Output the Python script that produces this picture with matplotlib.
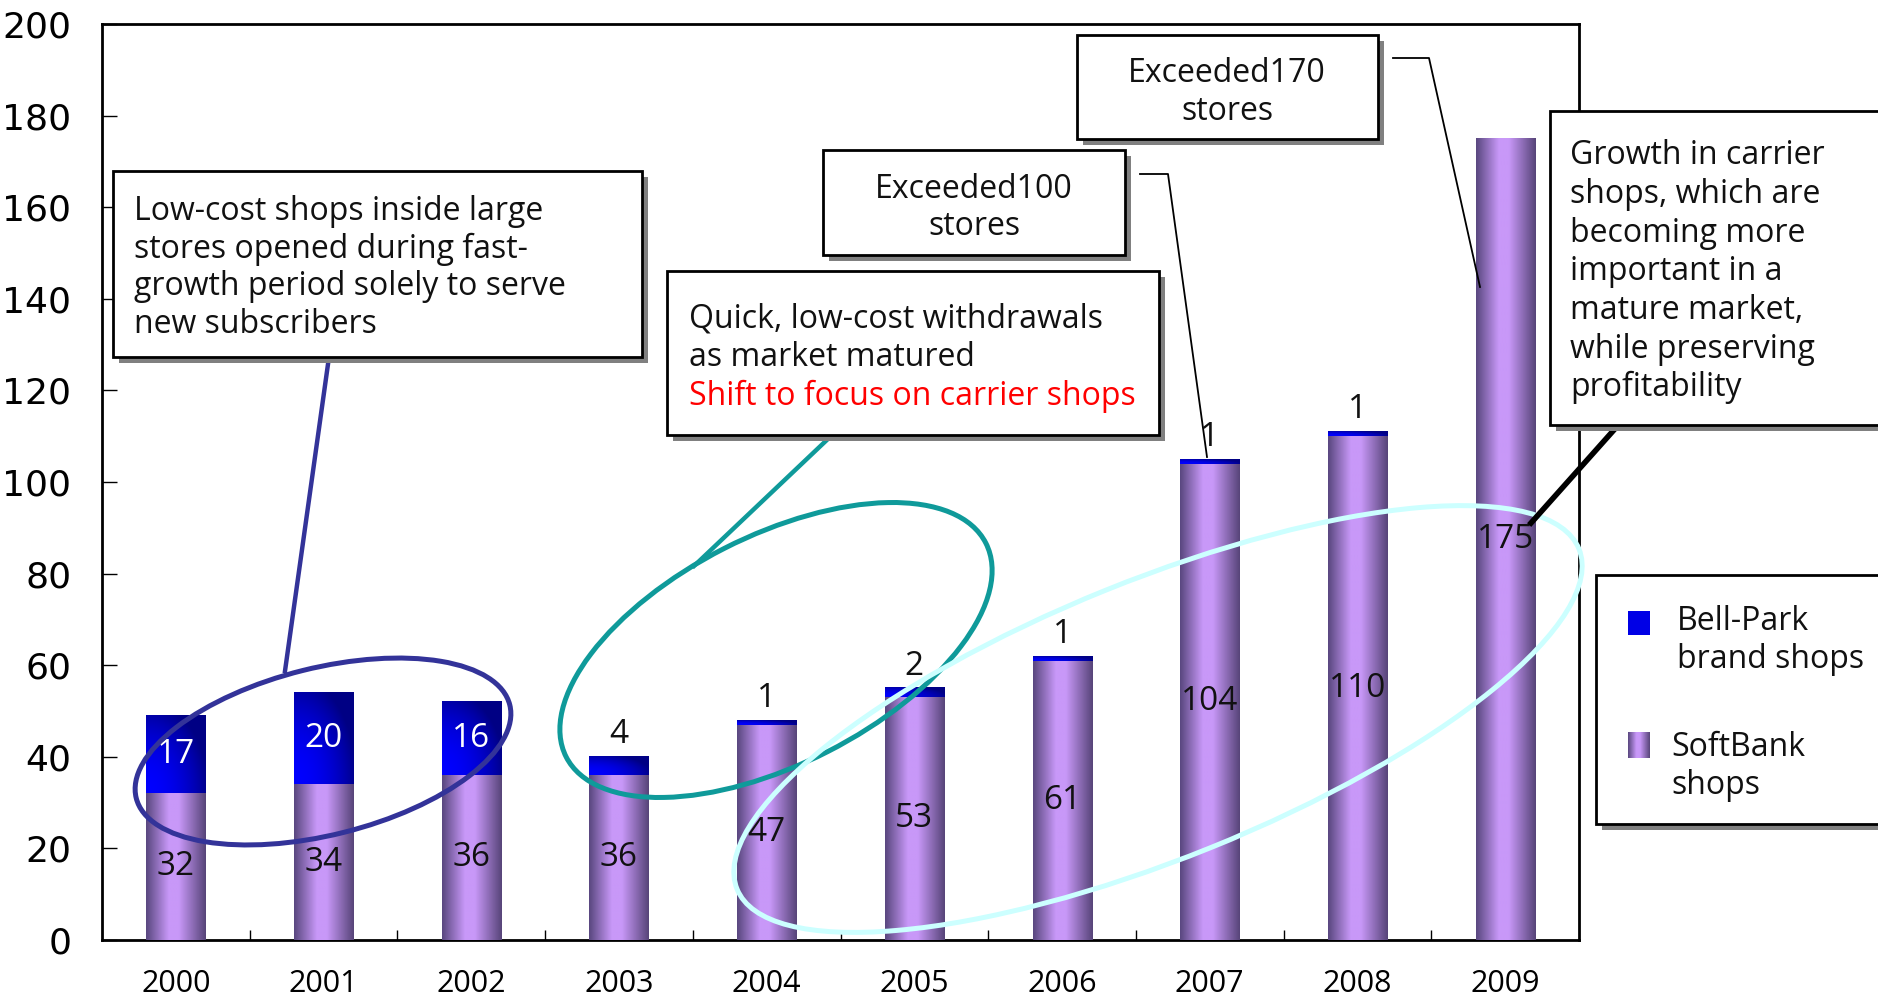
import numpy as np
import matplotlib
matplotlib.use('Agg')
import matplotlib.pyplot as plt
from matplotlib.patches import Rectangle, Ellipse
from matplotlib.lines import Line2D
from matplotlib.transforms import Affine2D
from matplotlib.colors import LinearSegmentedColormap

W, H = 1878, 999

# data
years = ['2000', '2001', '2002', '2003', '2004', '2005', '2006', '2007', '2008', '2009']
softbank = [32, 34, 36, 36, 47, 53, 61, 104, 110, 175]
bellpark = [17, 20, 16, 4, 1, 2, 1, 1, 1, 0]
y_ticks = [0, 20, 40, 60, 80, 100, 120, 140, 160, 180, 200]

note_lowcost = ['Low-cost shops inside large', 'stores opened during fast-',
                'growth period solely to serve', 'new subscribers']
note_quick = ['Quick, low-cost withdrawals', 'as market matured']
note_shift = 'Shift to focus on carrier shops'
note_100 = ['Exceeded100', 'stores']
note_170 = ['Exceeded170', 'stores']
note_growth = ['Growth in carrier', 'shops, which are', 'becoming more',
               'important in a', 'mature market,', 'while preserving', 'profitability']
legend_labels = [['Bell-Park', 'brand shops'], ['SoftBank', 'shops']]

plt.rcParams['font.family'] = ['Open Sans', 'DejaVu Sans']
FS = 23

fig = plt.figure(figsize=(W / 100, H / 100), dpi=100)
ax = fig.add_axes([102 / W, 1 - 940 / H, (1579 - 102) / W, (940 - 24) / H])
# pixel coordinates, origin top-left, like the reference image
px = Affine2D().scale(1, -1).translate(0, H).scale(1 / W, 1 / H) + fig.transFigure

sb_cmap = LinearSegmentedColormap.from_list(
    'sb', [(0, '#5a4880'), (0.38, '#c898f8'), (0.55, '#c898f8'), (1, '#58457a')])
sb_grad = sb_cmap(np.linspace(0, 1, 80))[None, :, :3]

gx = np.linspace(0, 1, 80)[None, :]
gy = np.linspace(0, 1, 40)[:, None]
shade = 1 - 0.48 * np.clip(0.9 * gx ** 2 + 0.7 * (1 - gy) ** 2, 0, 1)
bp_grad = np.dstack([np.zeros_like(shade), np.zeros_like(shade), shade])

x = np.arange(len(years))
bars_sb = ax.bar(x, softbank, width=0.4, color='#c898f8', zorder=2)
bars_bp = ax.bar(x, bellpark, width=0.4, bottom=softbank, color='#0000ff', zorder=2)

for bars, grad in ((bars_sb, sb_grad), (bars_bp, bp_grad)):
    for r in bars:
        if r.get_height() <= 0:
            continue
        ax.imshow(grad, extent=[r.get_x(), r.get_x() + r.get_width(),
                                r.get_y(), r.get_y() + r.get_height()],
                  aspect='auto', interpolation='bilinear', zorder=3)

for xi, s, b in zip(x, softbank, bellpark):
    ax.text(xi, s / 2, str(s), ha='center', va='center', fontsize=24,
            color='#111111', zorder=4)
    if b >= 10:
        ax.text(xi, s + b / 2, str(b), ha='center', va='center', fontsize=24,
                color='white', zorder=4)
    elif b > 0:
        ax.text(xi, s + b + 1.2, str(b), ha='center', va='bottom', fontsize=24,
                color='#111111', zorder=4)

ax.set_xlim(-0.5, len(years) - 0.5)
ax.set_ylim(0, 200)
ax.set_yticks(y_ticks)
ax.set_yticklabels([str(v) for v in y_ticks], family=['DejaVu Sans'])
ax.set_xticks(x)
ax.set_xticklabels(years)
ax.set_xticks(np.arange(0.5, len(years) - 1, 1), minor=True)
ax.tick_params(axis='y', direction='in', length=11, width=1, labelsize=26, pad=22)
ax.tick_params(axis='x', which='major', length=0, labelsize=22, pad=21)
ax.tick_params(axis='x', which='minor', direction='in', length=7, width=1)
for sp in ax.spines.values():
    sp.set_linewidth(2)
    sp.set_color('black')

# ellipses highlighting periods
for (cx, cy), ew, eh, ang, col in [((323, 751.5), 385, 167, -14, '#333399'),
                                    ((776, 650), 471, 228, -27, '#0f9a9a'),
                                    ((1158, 719), 908, 278, -22, '#ccffff')]:
    fig.add_artist(Ellipse((cx, cy), ew, eh, angle=ang, fill=False, edgecolor=col,
                           linewidth=3.6, transform=px, zorder=5))


def callout(x0, y0, x1, y1):
    fig.add_artist(Rectangle((x0 + 6, y0 + 6), x1 - x0, y1 - y0, facecolor='#808080',
                             edgecolor='none', transform=px, zorder=6))
    fig.add_artist(Rectangle((x0, y0), x1 - x0, y1 - y0, facecolor='white',
                             edgecolor='black', linewidth=2, transform=px, zorder=7))


def lines_of_text(lines, x0, y0, step, ha='left', color='#111111'):
    for i, s in enumerate(lines):
        fig.text(x0, y0 + 3 + i * step, s, ha=ha, va='center', fontsize=FS, color=color,
                 transform=px, zorder=8)


def leader(xs, ys, col='black', lw=1.3):
    fig.add_artist(Line2D(xs, ys, color=col, linewidth=lw, transform=px, zorder=5))


leader([329, 285], [357, 671], '#333399', 3.2)
leader([830, 694], [437, 566], '#0f9a9a', 3.2)
leader([1140, 1168, 1207], [174, 174, 457])
leader([1393, 1429, 1480], [58, 58, 287])
leader([1613, 1531], [431, 523], 'black', 4)

callout(113, 171, 642, 357)
lines_of_text(note_lowcost, 134, 209, 37.4)

callout(667, 271, 1159, 435)
lines_of_text(note_quick, 689, 316, 38.5)
lines_of_text([note_shift], 689, 393, 38.5, color='red')

callout(823, 150, 1125, 255)
lines_of_text(note_100, 974, 186, 37.5, ha='center')

callout(1077, 35, 1378, 139)
lines_of_text(note_170, 1227, 70, 38, ha='center')

callout(1550, 111, 1900, 425)
lines_of_text(note_growth, 1570, 153, 38.6)

# legend
callout(1596, 575, 1900, 824)
fig.add_artist(Rectangle((1628, 611), 22, 24, facecolor='#0000e6', edgecolor='none',
                         transform=px, zorder=8))
lax = fig.add_axes([1628 / W, 1 - 758 / H, 22 / W, 26 / H], zorder=10)
lax.imshow(sb_grad, aspect='auto', interpolation='bilinear')
lax.axis('off')
lines_of_text(legend_labels[0], 1677, 619, 38)
lines_of_text(legend_labels[1], 1671, 744, 38)

fig.savefig('out.png', dpi=100)
